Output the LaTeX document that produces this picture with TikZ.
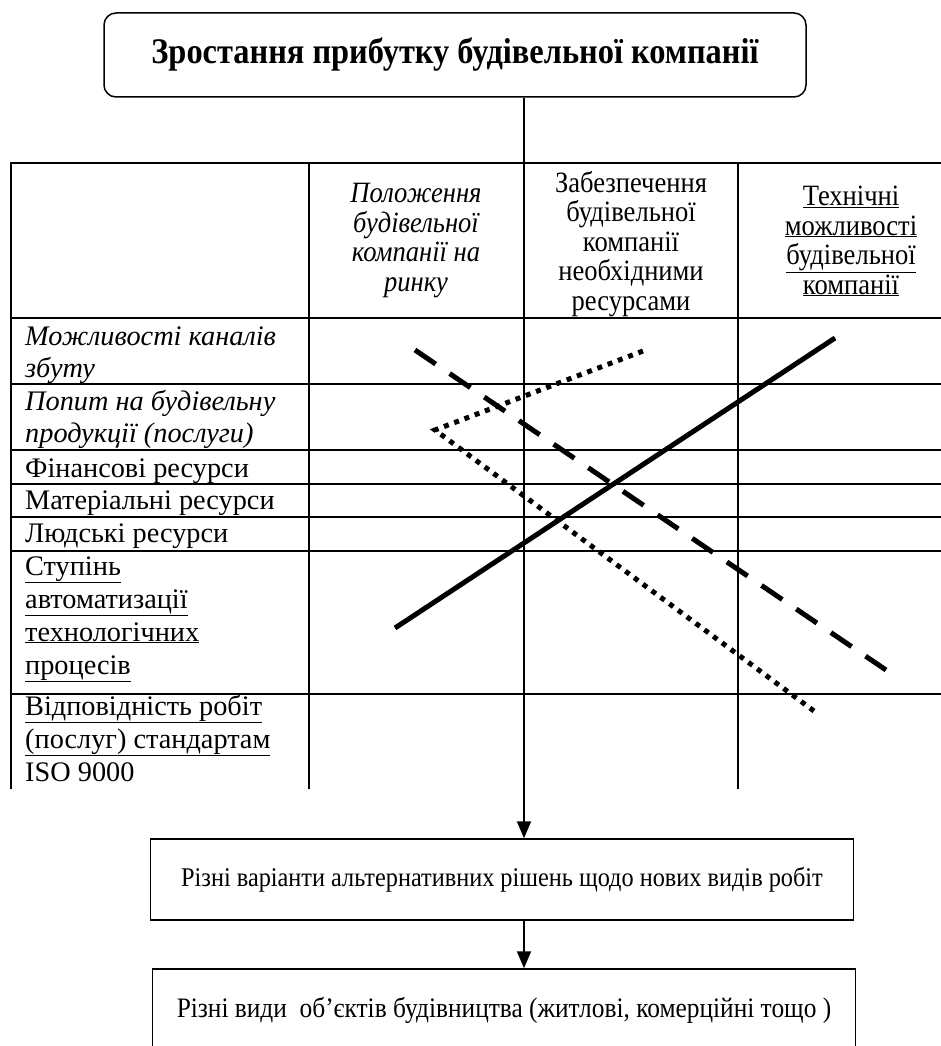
\documentclass[tikz,border=0pt]{standalone}
\usepackage{fontspec}
\setmainfont{Liberation Serif}
\newfontfamily\condfont[FakeStretch=0.9]{Liberation Serif}
\usetikzlibrary{arrows.meta}
\begin{document}
\begin{tikzpicture}[x=1pt,y=-1pt,
  grid/.style={line width=2pt},
  cellL/.style={anchor=base west, inner sep=0pt, align=left, font=\fontsize{28.3}{33}\selectfont},
  cellH/.style={anchor=base, inner sep=0pt, align=center, font=\condfont\fontsize{29.5}{29.5}\selectfont},
  flowbox/.style={draw, line width=1.5pt, minimum width=703pt, inner sep=0pt},
  arr/.style={line width=2pt, -{Triangle[length=17pt,width=14pt]}},
  thickln/.style={line width=5pt},
  dashln/.style={line width=5pt, dash pattern=on 25pt off 16.9pt},
  dotln/.style={line width=5pt, dash pattern=on 5pt off 5.94pt}
]
\useasboundingbox (0,0) rectangle (941,1046);

% title
\node[draw, rounded corners=12pt, line width=1.5pt, minimum width=702pt, minimum height=84pt,
      font=\condfont\fontsize{36}{40}\selectfont\bfseries] (title) at (455,55) {Зростання прибутку будівельної компанії};

% table grid
\foreach \yy in {163,318,384,450,484,517,551,694}
  \draw[grid] (10,\yy) -- (941,\yy);
\foreach \xx in {11,309,524,738}
  \draw[grid] (\xx,163) -- (\xx,789);

\coordinate (ttop) at (524,163);
\draw[line width=1.5pt] (ttop |- title.south) -- (ttop);

% header (anchor = baseline of last line)
\node[cellH, font=\condfont\fontsize{29.5}{29.5}\selectfont\itshape] (h1) at (416,291)
  {Положення\\будівельної\\компанії на\\ринку};
\node[cellH] (h2) at (631,310)
  {Забезпечення\\будівельної\\компанії\\необхідними\\ресурсами};
\node[cellH] (h3) at (851,294)
  {\underline{Технічні}\\\underline{можливості}\\\underline{будівельної}\\\underline{компанії}};

% left column (anchor = baseline of last line)
\node[cellL, font=\fontsize{28.3}{32}\selectfont\itshape] (r1) at (25,377) {Можливості каналів\\збуту};
\node[cellL, font=\fontsize{28.3}{32}\selectfont\itshape] (r2) at (25,442) {Попит на будівельну\\продукції (послуги)};
\node[cellL] (r3) at (25,477) {Фінансові ресурси};
\node[cellL] (r4) at (25,509) {Матеріальні ресурси};
\node[cellL] (r5) at (25,542) {Людські ресурси};
\node[cellL] (r6) at (25,674) {\underline{Ступінь}\\\underline{автоматизації}\\\underline{технологічних}\\\underline{процесів}};
\node[cellL, font=\fontsize{28.3}{33}\selectfont] (r7) at (25,781) {\underline{Відповідність робіт}\\\underline{(послуг) стандартам}\\ISO 9000};

% diagonal lines
\draw[thickln] (395,628) -- (835,338);
\draw[dashln] (415,350) -- (886,670);
\draw[dotln] (643,351) -- (435,430) -- (814,711);

% lower boxes
\node[flowbox, minimum height=81pt, font=\condfont\fontsize{27}{30}\selectfont] (b1) at (502,879.5) {Різні варіанти альтернативних рішень щодо нових видів робіт};
\node[flowbox, minimum height=82pt, font=\condfont\fontsize{28.2}{31}\selectfont] (b2) at (504,1010) {Різні види\ \ об’єктів будівництва (житлові, комерційні тощо )};

\coordinate (astart) at (524,778);
\draw[arr] (astart) -- (astart |- b1.north);
\draw[arr] (astart |- b1.south) -- (astart |- b2.north);
\end{tikzpicture}
\end{document}
